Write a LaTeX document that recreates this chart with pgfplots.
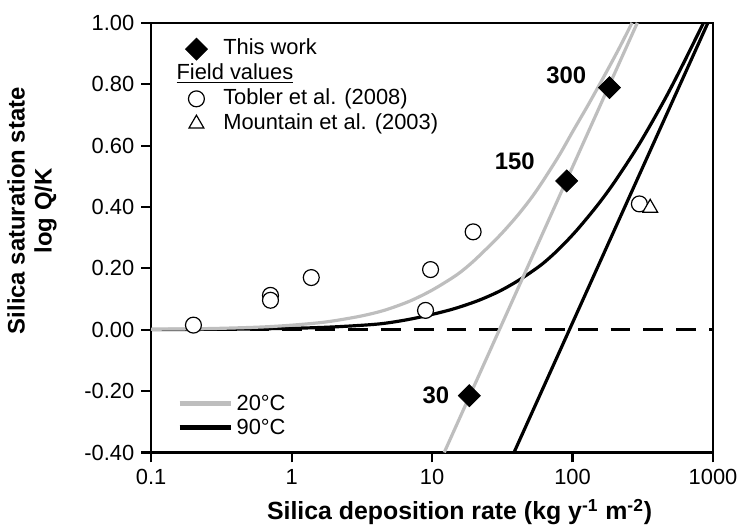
\documentclass[border=0pt]{standalone}
\usepackage{fontspec}
\setmainfont{Liberation Sans}
\usepackage{pgfplots}
\pgfplotsset{compat=1.18}
\definecolor{lgray}{RGB}{190,190,190}

\begin{document}
\begin{tikzpicture}
\begin{axis}[
  name=main,
  scale only axis, width=282.5pt, height=216pt,
  xmode=log, xmin=0.1, xmax=1000, ymin=-0.4, ymax=1.0,
  xtick={0.1,1,10,100,1000}, xticklabels={0.1,1,10,100,1000},
  xminorticks=false,
  ytick={-0.4,-0.2,0,0.2,0.4,0.6,0.8,1.0},
  yticklabels={-0.40,-0.20,0.00,0.20,0.40,0.60,0.80,1.00},
  tick align=outside, tick pos=left,
  major tick length=5pt,
  tick style={line width=1.1pt, black},
  axis line style={line width=1.3pt},
  ticklabel style={font=\fontsize{11}{13}\selectfont},
  xlabel={Silica deposition rate (kg y\textsuperscript{-1} m\textsuperscript{-2})},
  ylabel={Silica saturation state\\log Q/K},
  xlabel style={font=\bfseries\fontsize{12.5}{14}\selectfont, at={(axis description cs:0.549,-0.139)}, anchor=center},
  ylabel style={font=\bfseries\fontsize{12}{13.5}\selectfont, align=center, at={(axis description cs:-0.212,0.5625)}, anchor=center},
  legend style={draw=none, fill=none, at={(axis description cs:0.048,0.978)}, anchor=north west,
    font=\fontsize{11}{13}\selectfont, nodes={inner sep=1pt, text height=8pt, text depth=2.5pt}, row sep=0pt},
  legend cell align=left,
  legend image code/.code={\draw[#1] plot coordinates {(0pt,0pt)}; \path[draw=none, fill=none] (-6pt,-3pt) rectangle (12.5pt,3pt);},
]
% dashed zero line
\addplot[black, line width=1.4pt, dash pattern=on 10pt off 6.5pt, forget plot] coordinates {(0.1,0) (1000,0)};
% 90 C curve
\addplot[black, line width=1.6pt, smooth, forget plot] coordinates {
(0.1,0.0005) (0.3,0.0014) (1,0.0046) (2,0.0092) (4,0.018) (6,0.029) (9,0.045) (14,0.067) (21,0.094) (30,0.125) (42,0.163) (60,0.212) (80,0.263) (107,0.324) (150,0.405) (200,0.483) (300,0.607) (450,0.748) (600,0.858) (855,1.0)};
% 90 C straight line
\addplot[black, line width=1.6pt, forget plot] coordinates {(38.3,-0.4) (919,1.0)};
% 20 C curve
\addplot[lgray, line width=1.6pt, smooth, forget plot] coordinates {
(0.1,0.0015) (0.2,0.003) (0.3,0.0044) (0.5,0.0073) (0.7,0.0102) (1,0.0148) (1.5,0.0218) (2,0.029) (3,0.043) (4,0.056) (5,0.069) (7,0.094) (10,0.129) (15,0.179) (20,0.226) (30,0.305) (40,0.369) (50,0.425) (60,0.477) (80,0.567) (100,0.645) (130,0.735) (170,0.831) (215,0.918) (265,1.0)};
% 20 C straight line
\addplot[lgray, line width=1.6pt, forget plot] coordinates {(12.2,-0.4) (289,1.0)};
% Tobler et al. (2008)
\addplot[only marks, mark=*, mark size=4pt, mark options={fill=white, draw=black, line width=0.6pt}, forget plot] coordinates {
(0.2,0.015) (0.707,0.112) (0.707,0.096) (1.38,0.170) (8.98,0.063) (9.75,0.196) (19.6,0.319) (299,0.41)};
% Mountain et al. (2003)
\addplot[only marks, mark=triangle*, mark size=4.3pt, mark options={fill=white, draw=black, line width=0.6pt}, forget plot] coordinates {(357,0.397)};
% This work
\addplot[only marks, mark=square*, mark size=3.9pt, mark options={rotate=45, fill=black, draw=black}, forget plot] coordinates {(18.4,-0.215) (90.8,0.485) (183,0.789)};

\node[anchor=east, inner sep=0pt, font=\bfseries\fontsize{12}{14}\selectfont] at (axis cs:13.3,-0.215) {30};
\node[anchor=east, inner sep=0pt, font=\bfseries\fontsize{12}{14}\selectfont] at (axis cs:54,0.549) {150};
\node[anchor=east, inner sep=0pt, font=\bfseries\fontsize{12}{14}\selectfont] at (axis cs:126,0.828) {300};

\addlegendimage{only marks, mark=square*, mark size=3.9pt, mark options={rotate=45, fill=black, draw=black}}
\addlegendentry{This work}
\addlegendimage{empty legend}
\addlegendentry{\hspace*{-23.5pt}\underline{Field values}}
\addlegendimage{only marks, mark=*, mark size=4pt, mark options={fill=white, draw=black, line width=0.6pt}}
\addlegendentry{Tobler et al. (2008)}
\addlegendimage{only marks, mark=triangle*, mark size=4.3pt, mark options={fill=white, draw=black, line width=0.6pt}}
\addlegendentry{Mountain et al. (2003)}
\end{axis}

\begin{axis}[
  at={(main.south west)}, anchor=south west,
  scale only axis, width=282.5pt, height=216pt,
  hide axis, xmin=0, xmax=1, ymin=0, ymax=1,
  legend style={draw=none, fill=none, at={(axis description cs:0.035,0.021)}, anchor=south west,
    font=\fontsize{11}{13}\selectfont, nodes={inner sep=1.5pt, text height=8pt, text depth=1pt}, row sep=0pt},
  legend cell align=left,
  legend image code/.code={\draw[#1] (0pt,0pt) -- (26pt,0pt);},
]
\addplot[draw=none, forget plot] coordinates {(0.5,0.5)};
\addlegendimage{lgray, line width=2.4pt}
\addlegendentry{20°C}
\addlegendimage{black, line width=2.4pt}
\addlegendentry{90°C}
\end{axis}

\path ([xshift=-76pt,yshift=-39pt]main.south west) rectangle ([xshift=13.5pt,yshift=11.5pt]main.north east);
\end{tikzpicture}
\end{document}
